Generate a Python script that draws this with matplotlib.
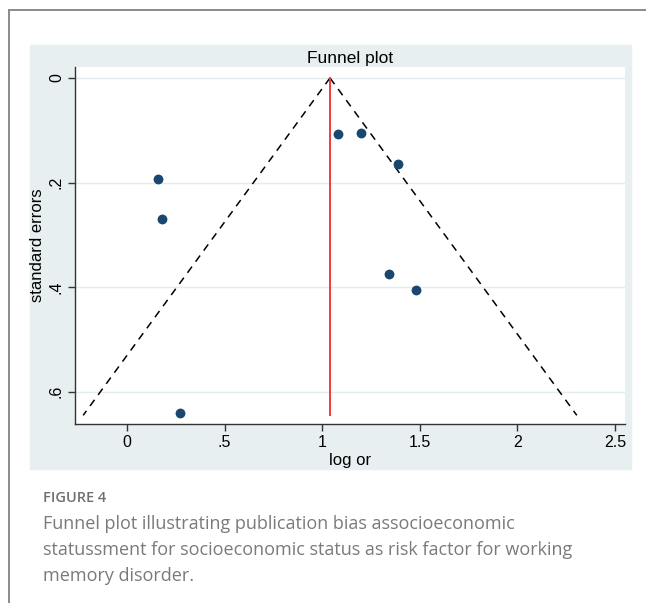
import numpy as np
import matplotlib.pyplot as plt
from matplotlib.patches import Rectangle
from matplotlib.lines import Line2D

# study estimates
log_or = [1.08, 1.20, 1.39, 0.16, 0.18, 1.34, 1.48, 0.27]
std_err = [0.107, 0.105, 0.164, 0.194, 0.269, 0.375, 0.406, 0.640]
pooled = 1.04
se_max = 0.645

x_ticks = [0, 0.5, 1, 1.5, 2, 2.5]
x_tick_labels = ["0", ".5", "1", "1.5", "2", "2.5"]
y_ticks = [0, 0.2, 0.4, 0.6]
y_tick_labels = ["0", ".2", ".4", ".6"]

plt.rcParams['font.family'] = ['Liberation Sans', 'DejaVu Sans']

fig = plt.figure(figsize=(6.46, 6.03), dpi=100)
W, H = 646, 603

# outer frame (top and left only)
fig.add_artist(Line2D([9 / W, 1], [1 - 10 / H, 1 - 10 / H], color='#8a8a8a', lw=1.4))
fig.add_artist(Line2D([9 / W, 9 / W], [0, 1 - 10 / H], color='#8a8a8a', lw=1.4))

# stata-like graph region
fig.add_artist(Rectangle((30 / W, 1 - 469 / H), 601 / W, 424 / H,
                         transform=fig.transFigure, color='#e8eff1', zorder=0))

ax = fig.add_axes([75 / W, 1 - 424 / H, 550 / W, 357 / H])
ax.set_facecolor('white')

# funnel limits
se_line = np.array([0, se_max])
ax.plot(pooled - 1.96 * se_line, se_line, ls=(0, (5, 4)), color='black', lw=1.1)
ax.plot(pooled + 1.96 * se_line, se_line, ls=(0, (5, 4)), color='black', lw=1.1)
ax.plot([pooled, pooled], [0, se_max], color='#f03c3c', lw=1.4)

ax.scatter(log_or, std_err, s=50, color='#1a476f', zorder=3, linewidths=0)

ax.set_xlim(-0.266, 2.551)
ax.set_ylim(0.6616, -0.021)
ax.set_xticks(x_ticks)
ax.set_xticklabels(x_tick_labels)
ax.set_yticks(y_ticks)
ax.set_yticklabels(y_tick_labels, rotation=90, va='center')
ax.grid(axis='y', color='#e3ecef', lw=1)
ax.set_axisbelow(True)

for s in ['top', 'right']:
    ax.spines[s].set_visible(False)
for s in ['left', 'bottom']:
    ax.spines[s].set_color('#333333')
    ax.spines[s].set_linewidth(1)
ax.tick_params(length=5, width=1, color='#333333', labelsize=11.5, pad=3)

ax.set_xlabel("log or", fontsize=12, labelpad=2)
ax.set_ylabel("standard errors", fontsize=12, labelpad=3)
ax.set_title("Funnel plot", fontsize=12.5, pad=3)

# caption
fig.text(43 / W, 1 - 498 / H, "FIGURE 4", fontsize=10.5, color='#707070',
         family='Open Sans', weight='semibold', va='center')
caption = ["Funnel plot illustrating publication bias associoeconomic",
           "statussment for socioeconomic status as risk factor for working",
           "memory disorder."]
for i, line in enumerate(caption):
    fig.text(43 / W, 1 - (524 + 26 * i) / H, line, fontsize=13, color='#7a7a7a',
             family='Open Sans', va='center')

fig.savefig("out.png", dpi=100)
